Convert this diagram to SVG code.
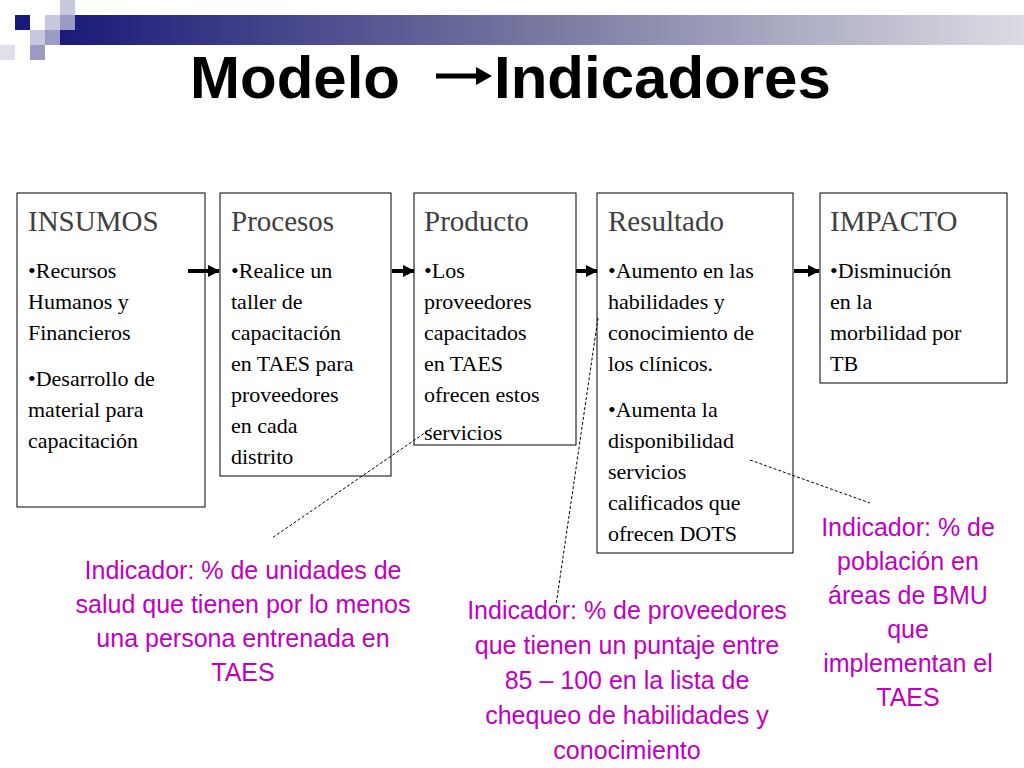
<svg xmlns="http://www.w3.org/2000/svg" width="1024" height="768" viewBox="0 0 1024 768">
<defs>
<linearGradient id="g" x1="0" x2="1" y1="0" y2="0"><stop offset="0" stop-color="#1a1a7a"/><stop offset="0.5" stop-color="#7878a0"/><stop offset="1" stop-color="#dcdce4"/></linearGradient>
<marker id="ah" markerWidth="12" markerHeight="12" refX="11" refY="6" orient="auto" markerUnits="userSpaceOnUse"><path d="M0,0 L12,6 L0,12 z" fill="#000"/></marker>
<style>
.box{fill:#fff;stroke:#000;stroke-width:1}
.h{font-family:"Liberation Serif",serif;font-size:29px;fill:#404040}
.t{font-family:"Liberation Serif",serif;font-size:22px;fill:#000}
.ind{font-family:"Liberation Sans",sans-serif;font-size:25px;fill:#c000c0;text-anchor:middle}
.arr{stroke:#000;stroke-width:4;marker-end:url(#ah)}
.dash{stroke:#000;stroke-width:1;stroke-dasharray:3,2;fill:none}
</style>
</defs>
<rect width="1024" height="768" fill="#fff"/>
<g id="deco">
<rect x="60" y="15" width="964" height="30" fill="url(#g)"/>
<rect x="15" y="15" width="15" height="15" fill="#1a1a7a"/>
<rect x="45" y="15" width="15" height="15" fill="#c8c8dc"/>
<rect x="60" y="0" width="15" height="15" fill="#c8c8dc"/>
<rect x="60" y="15" width="15" height="15" fill="#9a9ac4"/>
<rect x="30" y="30" width="15" height="15" fill="#c8c8dc"/>
<rect x="45" y="30" width="15" height="15" fill="#9a9ac4"/>
<rect x="30" y="45" width="15" height="15" fill="#9a9ac4"/>
<rect x="0" y="45" width="15" height="15" fill="#e0e0ea"/>
</g>
<g id="title">
<text x="190" y="98" font-family="Liberation Sans,sans-serif" font-size="60" font-weight="bold">Modelo</text>
<line x1="436" y1="76" x2="478" y2="76" stroke="#000" stroke-width="5"/>
<path d="M476,67 L492,76 L476,85 z" fill="#000"/>
<text x="494" y="98" font-family="Liberation Sans,sans-serif" font-size="60" font-weight="bold">Indicadores</text>
</g>
<g id="insumos"><rect class="box" x="17" y="193" width="188" height="314"/>
<text class="h" x="28" y="231">INSUMOS</text>
<text class="t"><tspan x="28" y="278">•Recursos</tspan><tspan x="28" y="309">Humanos y</tspan><tspan x="28" y="340">Financieros</tspan><tspan x="28" y="386">•Desarrollo de</tspan><tspan x="28" y="417">material para</tspan><tspan x="28" y="448">capacitación</tspan></text></g>
<g id="procesos"><rect class="box" x="220" y="193" width="171" height="283"/>
<text class="h" x="231" y="231">Procesos</text>
<text class="t"><tspan x="231" y="278">•Realice un</tspan><tspan x="231" y="309">taller de</tspan><tspan x="231" y="340">capacitación</tspan><tspan x="231" y="371">en TAES para</tspan><tspan x="231" y="402">proveedores</tspan><tspan x="231" y="433">en cada</tspan><tspan x="231" y="464">distrito</tspan></text></g>
<g id="producto"><rect class="box" x="414" y="193" width="162" height="252"/>
<text class="h" x="424" y="231">Producto</text>
<text class="t"><tspan x="424" y="278">•Los</tspan><tspan x="424" y="309">proveedores</tspan><tspan x="424" y="340">capacitados</tspan><tspan x="424" y="371">en TAES</tspan><tspan x="424" y="402">ofrecen estos</tspan><tspan x="424" y="440">servicios</tspan></text></g>
<g id="resultado"><rect class="box" x="597" y="193" width="196" height="360"/>
<text class="h" x="608" y="231">Resultado</text>
<text class="t"><tspan x="608" y="278">•Aumento en las</tspan><tspan x="608" y="309">habilidades y</tspan><tspan x="608" y="340">conocimiento de</tspan><tspan x="608" y="371">los clínicos.</tspan><tspan x="608" y="417">•Aumenta la</tspan><tspan x="608" y="448">disponibilidad</tspan><tspan x="608" y="479">servicios</tspan><tspan x="608" y="510">calificados que</tspan><tspan x="608" y="541">ofrecen DOTS</tspan></text></g>
<g id="impacto"><rect class="box" x="820" y="193" width="187" height="190"/>
<text class="h" x="830" y="231">IMPACTO</text>
<text class="t"><tspan x="830" y="278">•Disminución</tspan><tspan x="830" y="309">en la</tspan><tspan x="830" y="340">morbilidad por</tspan><tspan x="830" y="371">TB</tspan></text></g>
<g id="connectors">
<line class="arr" x1="188" y1="271" x2="219" y2="271"/>
<line class="arr" x1="392" y1="271" x2="414" y2="271"/>
<line class="arr" x1="576" y1="271" x2="597" y2="271"/>
<line class="arr" x1="794" y1="271" x2="819" y2="271"/>
<line class="dash" x1="432" y1="428" x2="272" y2="538"/>
<line class="dash" x1="598" y1="318" x2="556" y2="605"/>
<line class="dash" x1="750" y1="460" x2="870" y2="503"/>
</g>
<g id="indicators">
<text class="ind"><tspan x="243" y="579">Indicador: % de unidades de</tspan><tspan x="243" y="613">salud que tienen por lo menos</tspan><tspan x="243" y="647">una persona entrenada en</tspan><tspan x="243" y="681">TAES</tspan></text>
<text class="ind"><tspan x="627" y="619">Indicador: % de proveedores</tspan><tspan x="627" y="654">que tienen un puntaje entre</tspan><tspan x="627" y="689">85 – 100 en la lista de</tspan><tspan x="627" y="724">chequeo de habilidades y</tspan><tspan x="627" y="759">conocimiento</tspan></text>
<text class="ind"><tspan x="908" y="536">Indicador: % de</tspan><tspan x="908" y="570">población en</tspan><tspan x="908" y="604">áreas de BMU</tspan><tspan x="908" y="638">que</tspan><tspan x="908" y="672">implementan el</tspan><tspan x="908" y="706">TAES</tspan></text>
</g>
</svg>
